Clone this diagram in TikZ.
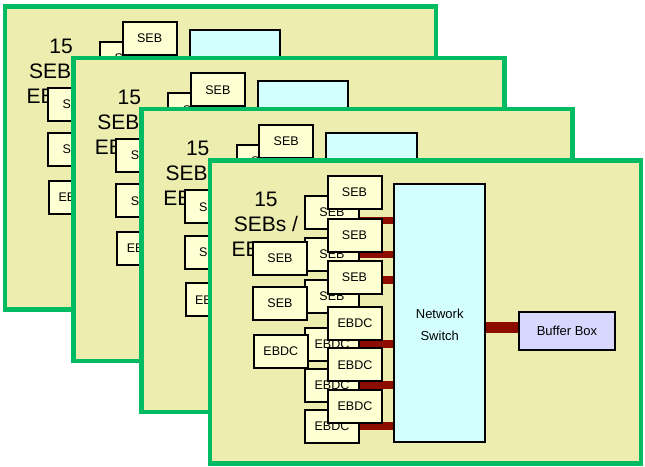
\documentclass[tikz,border=0pt]{standalone}
\usepackage{fontspec}
\setmainfont{Liberation Sans}
\definecolor{boardgreen}{RGB}{0, 187, 98}
\definecolor{boardfill}{RGB}{237, 237, 175}
\definecolor{cardfill}{RGB}{255, 255, 212}
\definecolor{switchfill}{RGB}{212, 255, 255}
\definecolor{bufferfill}{RGB}{216, 216, 255}
\definecolor{linkred}{RGB}{140, 12, 0}
\usepackage{tikz}
\usetikzlibrary{positioning}

\begin{document}
\begin{tikzpicture}[
    x=1pt, y=-1pt,
    board/.style={draw=boardgreen, fill=boardfill, line width=4.5pt},
    card/.style={draw, line width=2pt, fill=cardfill, minimum width=54pt,
                 minimum height=33pt, inner sep=0pt,
                 font=\fontsize{12.5}{14}\selectfont},
    link/.style={draw=linkred, line width=7.5pt}
]
    \useasboundingbox (0,0) rectangle (645,466);
    % four identical crates, back to front
    \foreach \k in {3,2,1,0} {
    \begin{scope}[shift={(-68.3*\k,-51.3*\k)}]
        \draw[board] (210,160.5) rectangle (641,463.5);
        \node[font=\fontsize{21}{25}\selectfont, align=center, anchor=north,
              inner sep=0pt] (count) at (266,192.3) {15\\SEBs /\\EBDCs};

        \node[draw, line width=2pt, fill=switchfill, minimum width=90.5pt,
              minimum height=258pt] (sw) at (439.7,313) {};
        \node[font=\fontsize{13}{22}\selectfont, align=center, inner sep=0pt]
            (swlabel) at (439.7,325) {Network\\Switch};

        % back column
        \node[card] (bs1) at (332,212.5) {SEB};
        \node[card, below=7pt of bs1] (bs2) {SEB};
        \node[card, below=7pt of bs2] (bs3) {SEB};
        \node[card] (be1) at (332,344) {EBDC};
        \node[card, below=6pt of be1] (be2) {EBDC};
        \node[card, below=6pt of be2] (be3) {EBDC};
        \coordinate (t1) at ([yshift=-8pt]bs1.east);
        \coordinate (t3) at ([yshift=16.5pt]bs3.east);
        \draw[link] (t1) -- (t1 -| sw.west);
        \draw[link] (bs2.east) -- (bs2.east -| sw.west);
        \draw[link] (t3) -- (t3 -| sw.west);
        \draw[link] (be1.east) -- (be1.east -| sw.west);
        \draw[link] (be2.east) -- (be2.east -| sw.west);
        \draw[link] (be3.east) -- (be3.east -| sw.west);

        % left column
        \node[card] (ls1) at (280,258) {SEB};
        \node[card] (ls2) at (280,303.5) {SEB};
        \node[card] (le1) at (280.8,351) {EBDC};

        % front column
        \node[card] (fs1) at (354.5,192.5) {SEB};
        \node[card, below=7.5pt of fs1] (fs2) {SEB};
        \node[card, below=7.5pt of fs2] (fs3) {SEB};
        \node[card] (fe1) at (355,323.3) {EBDC};
        \node[card, below=6.5pt of fe1] (fe2) {EBDC};
        \node[card, below=6.5pt of fe2] (fe3) {EBDC};

        \node[draw, line width=2pt, fill=bufferfill, minimum width=96pt,
              minimum height=37.5pt, font=\fontsize{13}{15}\selectfont]
            (bb) at (567,331) {Buffer Box};
        \coordinate (bl) at ([yshift=3.5pt]bb.west);
        \draw[link, line width=11pt] (bl -| sw.east) -- (bl);
    \end{scope}
    }
\end{tikzpicture}
\end{document}
